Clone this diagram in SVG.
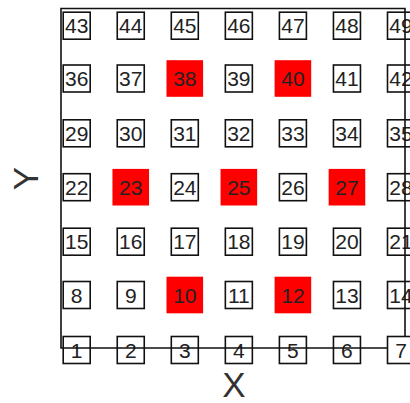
<svg xmlns="http://www.w3.org/2000/svg" width="410" height="403" viewBox="0 0 410 403">
<style>
.b{fill:none;stroke:#111;stroke-width:1.6}
.w{fill:#fff;stroke:#111;stroke-width:1.6}
.r{fill:#ff0000;stroke:none}
.t{font-family:"Liberation Sans",Arial,sans-serif;font-size:21px;fill:#222;text-anchor:middle}
.ax{font-family:"Liberation Sans",Arial,sans-serif;font-size:35px;fill:#333;text-anchor:middle}
.sp{stroke:#111;stroke-width:1.6;fill:none}
</style>
<rect width="410" height="403" fill="#fff"/>
<defs>
<rect id="bx" x="-13.5" y="-13.5" width="27" height="27"/>
<rect id="rx" x="-18.3" y="-18.3" width="36.6" height="36.6"/>
</defs>
<g id="nodes">
<g id="n43" transform="translate(76.7,25.7)"><use href="#bx" class="b"/><text class="t" y="7.5">43</text></g>
<g id="n44" transform="translate(130.75,25.7)"><use href="#bx" class="b"/><text class="t" y="7.5">44</text></g>
<g id="n45" transform="translate(184.8,25.7)"><use href="#bx" class="b"/><text class="t" y="7.5">45</text></g>
<g id="n46" transform="translate(238.85,25.7)"><use href="#bx" class="b"/><text class="t" y="7.5">46</text></g>
<g id="n47" transform="translate(292.9,25.7)"><use href="#bx" class="b"/><text class="t" y="7.5">47</text></g>
<g id="n48" transform="translate(346.95,25.7)"><use href="#bx" class="b"/><text class="t" y="7.5">48</text></g>
<g id="n49" transform="translate(401,25.7)"><use href="#bx" class="b"/><text class="t" y="7.5">49</text></g>

<g id="n36" transform="translate(76.7,78.5)"><use href="#bx" class="b"/><text class="t" y="7.5">36</text></g>
<g id="n37" transform="translate(130.75,78.5)"><use href="#bx" class="b"/><text class="t" y="7.5">37</text></g>
<g id="n38" transform="translate(184.8,78.5)"><use href="#rx" class="r"/><text class="t" y="7.5">38</text></g>
<g id="n39" transform="translate(238.85,78.5)"><use href="#bx" class="b"/><text class="t" y="7.5">39</text></g>
<g id="n40" transform="translate(292.9,78.5)"><use href="#rx" class="r"/><text class="t" y="7.5">40</text></g>
<g id="n41" transform="translate(346.95,78.5)"><use href="#bx" class="b"/><text class="t" y="7.5">41</text></g>
<g id="n42" transform="translate(401,78.5)"><use href="#bx" class="b"/><text class="t" y="7.5">42</text></g>

<g id="n29" transform="translate(76.7,133.3)"><use href="#bx" class="b"/><text class="t" y="7.5">29</text></g>
<g id="n30" transform="translate(130.75,133.3)"><use href="#bx" class="b"/><text class="t" y="7.5">30</text></g>
<g id="n31" transform="translate(184.8,133.3)"><use href="#bx" class="b"/><text class="t" y="7.5">31</text></g>
<g id="n32" transform="translate(238.85,133.3)"><use href="#bx" class="b"/><text class="t" y="7.5">32</text></g>
<g id="n33" transform="translate(292.9,133.3)"><use href="#bx" class="b"/><text class="t" y="7.5">33</text></g>
<g id="n34" transform="translate(346.95,133.3)"><use href="#bx" class="b"/><text class="t" y="7.5">34</text></g>
<g id="n35" transform="translate(401,133.3)"><use href="#bx" class="b"/><text class="t" y="7.5">35</text></g>

<g id="n22" transform="translate(76.7,187.2)"><use href="#bx" class="b"/><text class="t" y="7.5">22</text></g>
<g id="n23" transform="translate(130.75,187.2)"><use href="#rx" class="r"/><text class="t" y="7.5">23</text></g>
<g id="n24" transform="translate(184.8,187.2)"><use href="#bx" class="b"/><text class="t" y="7.5">24</text></g>
<g id="n25" transform="translate(238.85,187.2)"><use href="#rx" class="r"/><text class="t" y="7.5">25</text></g>
<g id="n26" transform="translate(292.9,187.2)"><use href="#bx" class="b"/><text class="t" y="7.5">26</text></g>
<g id="n27" transform="translate(346.95,187.2)"><use href="#rx" class="r"/><text class="t" y="7.5">27</text></g>
<g id="n28" transform="translate(401,187.2)"><use href="#bx" class="b"/><text class="t" y="7.5">28</text></g>

<g id="n15" transform="translate(76.7,241.7)"><use href="#bx" class="b"/><text class="t" y="7.5">15</text></g>
<g id="n16" transform="translate(130.75,241.7)"><use href="#bx" class="b"/><text class="t" y="7.5">16</text></g>
<g id="n17" transform="translate(184.8,241.7)"><use href="#bx" class="b"/><text class="t" y="7.5">17</text></g>
<g id="n18" transform="translate(238.85,241.7)"><use href="#bx" class="b"/><text class="t" y="7.5">18</text></g>
<g id="n19" transform="translate(292.9,241.7)"><use href="#bx" class="b"/><text class="t" y="7.5">19</text></g>
<g id="n20" transform="translate(346.95,241.7)"><use href="#bx" class="b"/><text class="t" y="7.5">20</text></g>
<g id="n21" transform="translate(401,241.7)"><use href="#bx" class="b"/><text class="t" y="7.5">21</text></g>

<g id="n8" transform="translate(76.7,295)"><use href="#bx" class="b"/><text class="t" y="7.5">8</text></g>
<g id="n9" transform="translate(130.75,295)"><use href="#bx" class="b"/><text class="t" y="7.5">9</text></g>
<g id="n10" transform="translate(184.8,295)"><use href="#rx" class="r"/><text class="t" y="7.5">10</text></g>
<g id="n11" transform="translate(238.85,295)"><use href="#bx" class="b"/><text class="t" y="7.5">11</text></g>
<g id="n12" transform="translate(292.9,295)"><use href="#rx" class="r"/><text class="t" y="7.5">12</text></g>
<g id="n13" transform="translate(346.95,295)"><use href="#bx" class="b"/><text class="t" y="7.5">13</text></g>
<g id="n14" transform="translate(401,295)"><use href="#bx" class="b"/><text class="t" y="7.5">14</text></g>

<g id="n1" transform="translate(76.7,350)"><use href="#bx" class="b"/><text class="t" y="7.5">1</text></g>
<g id="n2" transform="translate(130.75,350)"><use href="#bx" class="b"/><text class="t" y="7.5">2</text></g>
<g id="n3" transform="translate(184.8,350)"><use href="#bx" class="b"/><text class="t" y="7.5">3</text></g>
<g id="n4" transform="translate(238.85,350)"><use href="#bx" class="b"/><text class="t" y="7.5">4</text></g>
<g id="n5" transform="translate(292.9,350)"><use href="#bx" class="b"/><text class="t" y="7.5">5</text></g>
<g id="n6" transform="translate(346.95,350)"><use href="#bx" class="b"/><text class="t" y="7.5">6</text></g>
</g>
<g id="axes">
<polyline class="sp" points="405,337 405,8.5 61,8.5 61,348 405,348"/>
</g>
<g id="n7" transform="translate(401,350)"><use href="#bx" class="w"/><text class="t" y="7.5">7</text></g>
<text class="ax" x="234" y="396.5">X</text>
<text class="ax" transform="translate(38,178.5) rotate(-90)">Y</text>
</svg>
